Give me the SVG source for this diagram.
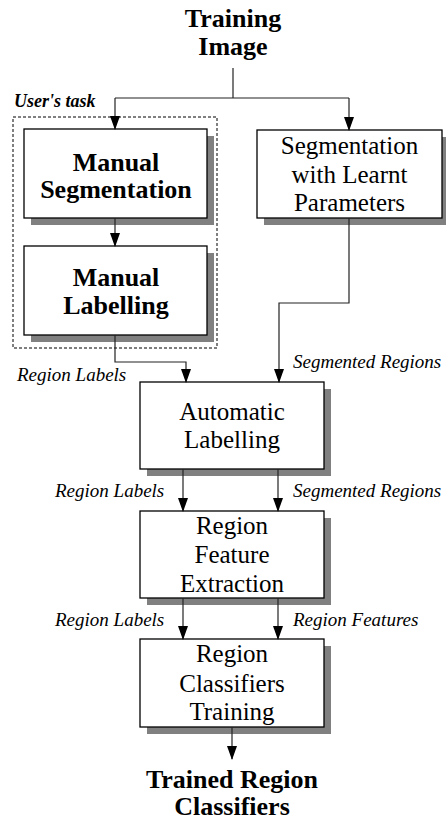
<svg xmlns="http://www.w3.org/2000/svg" width="446" height="820" viewBox="0 0 446 820">
<style>
.box{fill:#fff;stroke:#000;stroke-width:1.3}
.sh{fill:#808080}
.b{font-family:"Liberation Serif",serif;font-weight:bold;font-size:26px;text-anchor:middle;fill:#000}
.r{font-family:"Liberation Serif",serif;font-size:25px;text-anchor:middle;fill:#000}
.i{font-family:"Liberation Serif",serif;font-style:italic;font-size:19px;fill:#000}
.c{fill:none;stroke:#222;stroke-width:1.2}
</style>
<defs>
<marker id="ah" markerUnits="userSpaceOnUse" markerWidth="14" markerHeight="10" refX="13" refY="5" orient="auto" viewBox="0 0 14 10">
<path d="M0,0 L14,5 L0,10 Z" fill="#000"/>
</marker>
</defs>
<rect width="446" height="820" fill="#fff"/>

<g id="training-image">
<text class="b" x="233" y="27">Training</text>
<text class="b" x="233" y="55">Image</text>
</g>

<g id="users-task">
<rect x="13" y="117" width="204" height="231" fill="none" stroke="#000" stroke-width="1" stroke-dasharray="3,2"/>
<text x="14" y="107" font-family="Liberation Serif,serif" font-weight="bold" font-style="italic" font-size="18">User's task</text>
</g>

<g id="manual-segmentation">
<rect class="sh" x="31" y="136" width="183" height="89"/>
<rect class="box" x="24" y="129" width="183" height="89"/>
<text class="b" x="116" y="171">Manual</text>
<text class="b" x="116" y="198">Segmentation</text>
</g>

<g id="manual-labelling">
<rect class="sh" x="31" y="253" width="183" height="89"/>
<rect class="box" x="24" y="246" width="183" height="89"/>
<text class="b" x="116" y="286">Manual</text>
<text class="b" x="116" y="314">Labelling</text>
</g>

<g id="segmentation-learnt">
<rect class="sh" x="264" y="137" width="185" height="88"/>
<rect class="box" x="257" y="130" width="185" height="88"/>
<text class="r" x="349.5" y="154">Segmentation</text>
<text class="r" x="349.5" y="183">with Learnt</text>
<text class="r" x="349.5" y="211">Parameters</text>
</g>

<g id="automatic-labelling">
<rect class="sh" x="147" y="389" width="184" height="87"/>
<rect class="box" x="140" y="382" width="184" height="87"/>
<text class="r" x="232" y="420">Automatic</text>
<text class="r" x="232" y="448">Labelling</text>
</g>

<g id="region-feature-extraction">
<rect class="sh" x="147" y="518" width="184" height="87"/>
<rect class="box" x="140" y="511" width="184" height="87"/>
<text class="r" x="232" y="534">Region</text>
<text class="r" x="232" y="563">Feature</text>
<text class="r" x="232" y="592">Extraction</text>
</g>

<g id="region-classifiers-training">
<rect class="sh" x="147" y="646" width="184" height="88"/>
<rect class="box" x="140" y="639" width="184" height="88"/>
<text class="r" x="232" y="662">Region</text>
<text class="r" x="232" y="692">Classifiers</text>
<text class="r" x="232" y="720">Training</text>
</g>

<g id="trained-classifiers">
<text class="b" x="232" y="788">Trained Region</text>
<text class="b" x="232" y="815">Classifiers</text>
</g>

<g id="connectors">
<path class="c" d="M233,68 V98"/>
<path class="c" d="M115,98 H349"/>
<path class="c" d="M115,98 V129" marker-end="url(#ah)"/>
<path class="c" d="M349,98 V130" marker-end="url(#ah)"/>
<path class="c" d="M115,218 V246" marker-end="url(#ah)"/>
<path class="c" d="M115,335 V362 H186 V382" marker-end="url(#ah)"/>
<path class="c" d="M349,218 V303 H279 V382" marker-end="url(#ah)"/>
<path class="c" d="M183,469 V511" marker-end="url(#ah)"/>
<path class="c" d="M278,469 V511" marker-end="url(#ah)"/>
<path class="c" d="M183,598 V639" marker-end="url(#ah)"/>
<path class="c" d="M278,598 V639" marker-end="url(#ah)"/>
<path class="c" d="M232,727 V759" marker-end="url(#ah)"/>
</g>

<g id="labels">
<text class="i" x="17" y="381">Region Labels</text>
<text class="i" x="293" y="368">Segmented Regions</text>
<text class="i" x="55" y="497">Region Labels</text>
<text class="i" x="293" y="497">Segmented Regions</text>
<text class="i" x="55" y="626">Region Labels</text>
<text class="i" x="293" y="626">Region Features</text>
</g>
</svg>
